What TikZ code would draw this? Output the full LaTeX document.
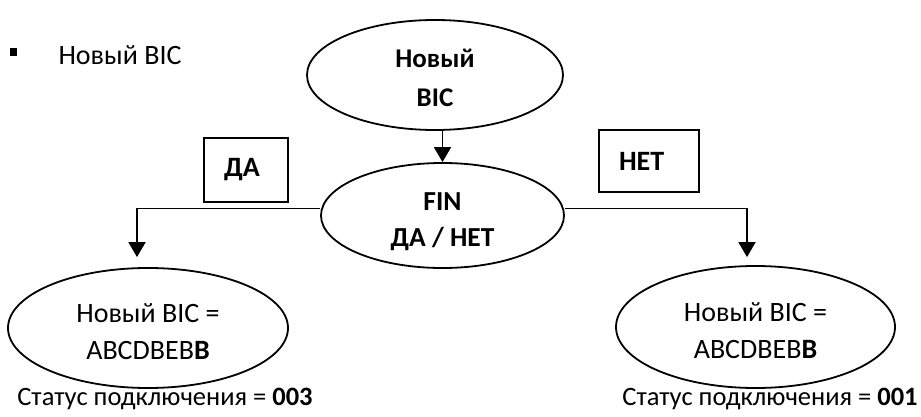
\documentclass[tikz,border=0pt]{standalone}
\usepackage{fontspec}
\setmainfont{Carlito}
\usetikzlibrary{shapes.geometric,arrows.meta}

\begin{document}
\begin{tikzpicture}[x=1pt,y=-1pt,
  every node/.style={font=\fontsize{28}{37}\selectfont},
  oval/.style={draw,ellipse,line width=1.8pt,inner sep=0pt},
  label/.style={align=center,inner sep=0pt},
  answer/.style={draw,rectangle,line width=1.5pt,inner xsep=20pt,inner ysep=0pt,align=left,font=\fontsize{28}{34}\selectfont\bfseries},
  arr/.style={line width=1.8pt,-{Triangle[length=15pt,width=17pt]}}]
  \useasboundingbox (0,0) rectangle (921,417);
  % heading
  \node[fill,minimum size=7.5pt,inner sep=0pt] (bullet) at (13.5,52) {};
  \node[anchor=west] (title) at (55,55) {Новый BIC};
  % question
  \node[oval,minimum width=256pt,minimum height=110pt] (newbic) at (435,75) {};
  \node[label,font=\fontsize{27}{39}\selectfont\bfseries] (newbictext) at ([yshift=-3pt]newbic.center) {Новый\\BIC};
  \node[oval,minimum width=243pt,minimum height=105pt] (fin) at (442.5,215.5) {};
  \node[label,font=\fontsize{27.5}{36}\selectfont\bfseries] (fintext) at ([yshift=-6pt]fin.center) {FIN\\ДА / НЕТ};
  % answers
  \node[answer,text width=44pt,minimum height=64pt] (yes) at (246,170) {ДА};
  \node[answer,text width=60pt,minimum height=62pt] (no) at (649,161) {НЕТ};
  % results
  \node[oval,minimum width=280pt,minimum height=120pt] (yesbic) at (148,328) {};
  \node[label] (yesbictext) at ([yshift=-4pt]yesbic.center) {Новый BIC =\\ABCDBEB\textbf{B}};
  \node[oval,minimum width=279pt,minimum height=122pt] (nobic) at (755.5,327) {};
  \node[label] (nobictext) at ([yshift=-4pt]nobic.center) {Новый BIC =\\ABCDBEB\textbf{B}};
  \node[font=\fontsize{26.5}{34}\selectfont] (yesstate) at (165,399) {Статус подключения = \textbf{003}};
  \node[font=\fontsize{26.5}{34}\selectfont] (nostate) at (770,399) {Статус подключения = \textbf{001}};
  % arrows
  \draw[arr] (newbic.south -| fin.north) -- (fin.north);
  \draw[arr] ([yshift=7pt]fin.west) -| ([xshift=-11pt,yshift=10pt]yesbic.north);
  \draw[arr] ([yshift=7pt]fin.east) -| ([xshift=-8.5pt,yshift=8pt]nobic.north);
\end{tikzpicture}
\end{document}
